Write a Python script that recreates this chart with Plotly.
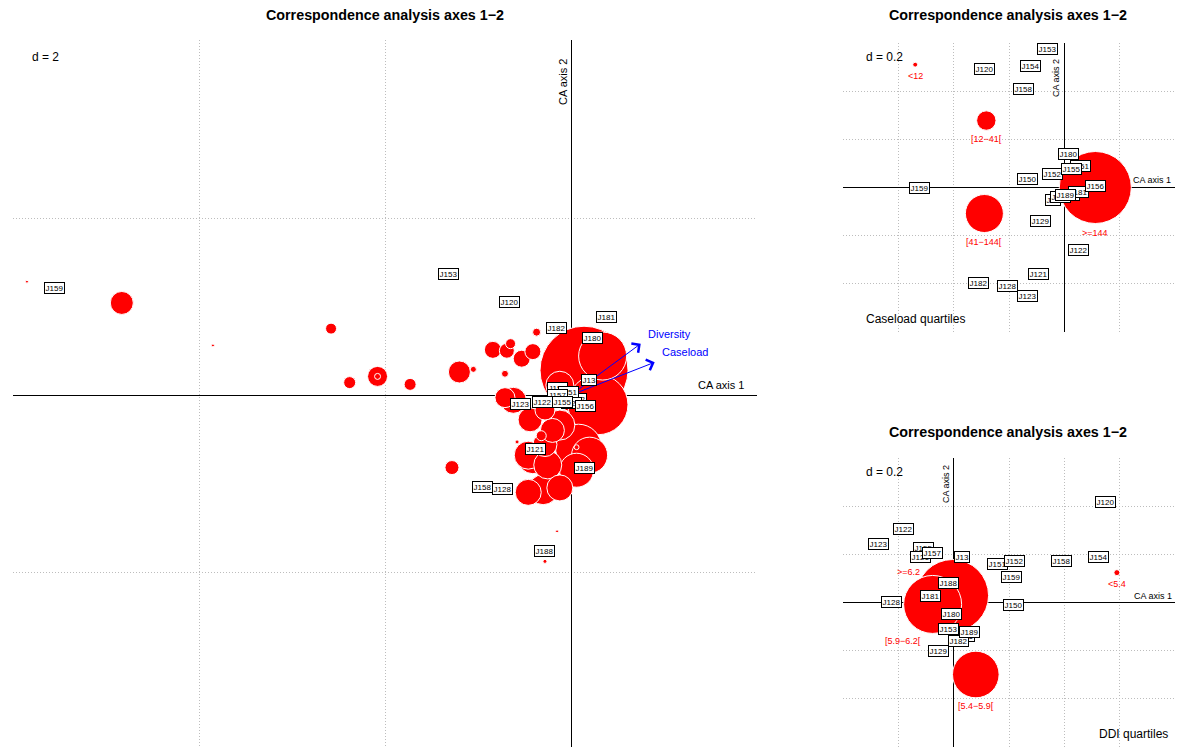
import plotly.graph_objects as go
import numpy as np

FONT = "Liberation Sans, Arial, Helvetica, sans-serif"
TITLE = "Correspondence analysis axes 1\u22122"

# ---------------- Main panel: row points (bubbles) ----------------
main_x = [-5.85, -4.83, -3.85, -2.58, -2.38, -2.08, -2.08, -1.73, -1.28, -1.20,
          -1.05, -0.84, -0.69, -0.65, -0.53, -0.41, -0.37, -0.71, 0.14, 0.34,
          0.29, 0.08, 0.06, -0.62, -0.44, -0.28, -0.46, -0.28, -0.32, -0.58,
          -0.12, -0.46, -0.41, -0.25, -0.12, -0.30, 0.06, 0.20, -0.15, -0.28,
          -0.71, -0.12, -0.20]
main_y = [1.28, 1.04, 0.56, 0.75, 0.14, 0.21, 0.21, 0.12, -0.82, 0.26,
          0.29, 0.51, 0.50, 0.58, 0.41, 0.49, 0.71, 0.24, 0.28, 0.44,
          -0.11, -0.59, -0.59, -0.06, -0.28, -0.17, -0.68, -0.56, -0.46, -0.53,
          -0.34, -1.10, -0.72, -0.79, -1.05, -1.07, -0.85, -0.68, -1.54, -1.88,
          -0.03, 0.11, -0.40]
main_w = [2, 132, 2, 30, 36, 100, 9, 36, 49, 121,
          9, 72, 56, 25, 72, 64, 16, 12, 1936, 576,
          900, 529, 6, 169, 144, 100, 196, 144, 25, 4,
          225, 169, 225, 196, 169, 225, 289, 324, 2, 4,
          100, 196, 144]

# column labels (main panel)
main_lab = ["J159", "J153", "J120", "J181", "J182", "J180", "J150", "J152", "J129",
            "J154", "J151", "J157", "J122", "J123", "J155", "J156", "J13", "J121",
            "J189", "J158", "J128", "J188"]
main_lab_x = [-5.55, -1.32, -0.66, 0.38, -0.16, 0.23, 0.02, 0.06, 0.01,
              -0.15, -0.03, -0.15, -0.31, -0.54, -0.09, 0.16, 0.19, -0.38,
              0.14, -0.95, -0.74, -0.28]
main_lab_y = [1.21, 1.37, 1.05, 0.88, 0.76, 0.64, -0.06, -0.04, -0.09,
              0.08, 0.03, 0.0, -0.08, -0.10, -0.08, -0.12, 0.17, -0.61,
              -0.82, -1.04, -1.06, -1.76]

# supplementary variables (arrows)
arrow_names = ["Diversity", "Caseload"]
arrow_x = [0.75, 0.90]
arrow_y = [0.58, 0.37]

# ---------------- Top-right panel: caseload quartiles ----------------
case_cat = ["&lt;12", "[12\u221241[", "[41\u2212144[", "&gt;=144"]
case_x = [-0.539, -0.282, -0.289, 0.112]
case_y = [0.510, 0.278, -0.108, 0.0]
case_w = [6, 94, 361, 1296]

case_lab = ["J153", "J154", "J120", "J158", "J159", "J129", "J122", "J121", "J182",
            "J128", "J123", "J150", "J13", "J188", "J157", "J181", "J151", "J152",
            "J155", "J180", "J156", "J189"]
case_lab_x = [-0.061, -0.123, -0.289, -0.148, -0.524, -0.087, 0.051, -0.094, -0.311,
              -0.206, -0.134, -0.134, -0.040, 0.020, -0.015, 0.051, 0.058, -0.043,
              0.025, 0.014, 0.112, 0.004]
case_lab_y = [0.577, 0.506, 0.490, 0.411, -0.004, -0.141, -0.261, -0.361, -0.398,
              -0.411, -0.452, 0.037, -0.050, -0.030, -0.040, -0.017, 0.091, 0.058,
              0.075, 0.141, 0.008, -0.033]

# ---------------- Bottom-right panel: DDI quartiles ----------------
ddi_cat = ["&lt;5.4", "[5.4\u22125.9[", "&gt;=6.2", "[5.9\u22126.2["]
ddi_x = [0.590, 0.080, -0.076, -0.004]
ddi_y = [0.124, -0.299, -0.008, 0.029]
ddi_w = [9, 543, 841, 1296]

ddi_lab = ["J120", "J122", "J123", "J155", "J121", "J157", "J13", "J151", "J152",
           "J159", "J158", "J154", "J188", "J181", "J128", "J150", "J180", "J156",
           "J182", "J129", "J153", "J189"]
ddi_lab_x = [0.550, -0.181, -0.271, -0.108, -0.119, -0.076, 0.029, 0.159, 0.221,
             0.210, 0.391, 0.524, -0.018, -0.083, -0.224, 0.217, -0.007, 0.040,
             0.018, -0.054, -0.018, 0.058]
ddi_lab_y = [0.419, 0.307, 0.245, 0.228, 0.187, 0.207, 0.187, 0.158, 0.174,
             0.104, 0.174, 0.187, 0.079, 0.025, 0.004, -0.012, -0.046, -0.140,
             -0.158, -0.203, -0.112, -0.124]

# ---------------- figure ----------------
W, H = 1179, 747
SIZEREF = 0.5  # area mode: radius = sqrt(w / (2*sizeref))


def radius(w):
    return np.sqrt(np.asarray(w, float) / (2 * SIZEREF))


fig = go.Figure()


def bubbles(xs, ys, ws, xa, ya):
    order = np.argsort(-np.asarray(ws, float), kind="stable")
    fig.add_trace(go.Scatter(
        x=[xs[i] for i in order], y=[ys[i] for i in order],
        xaxis=xa, yaxis=ya, mode="markers", hoverinfo="skip",
        marker=dict(size=[ws[i] for i in order], sizemode="area", sizeref=SIZEREF,
                    color="#ff0000", opacity=1, line=dict(color="white", width=1)),
        showlegend=False))


bubbles(main_x, main_y, main_w, "x", "y")
bubbles(case_x, case_y, case_w, "x2", "y2")
bubbles(ddi_x, ddi_y, ddi_w, "x3", "y3")

ann = []

# arrows (drawn beneath the labels)
for name, x, y in zip(arrow_names, arrow_x, arrow_y):
    ann.append(dict(x=x, y=y, ax=0, ay=0, xref="x", yref="y", axref="x", ayref="y",
                    text="", showarrow=True, arrowhead=4, arrowsize=2.2,
                    arrowwidth=1, arrowcolor="#0000ff", standoff=0, startstandoff=0))
    ann.append(dict(x=x, y=y, xref="x", yref="y", text=name, showarrow=False,
                    xanchor="left", yanchor="middle", xshift=5, yshift=10,
                    font=dict(family=FONT, size=11, color="#0000ff")))


def box_labels(labs, xs, ys, xr, yr):
    for t, x, y in zip(labs, xs, ys):
        ann.append(dict(x=x, y=y, xref=xr, yref=yr, text=t, showarrow=False,
                        xanchor="center", yanchor="middle",
                        font=dict(family=FONT, size=8, color="black"),
                        bgcolor="white", bordercolor="black", borderwidth=1,
                        borderpad=0.5))


box_labels(main_lab, main_lab_x, main_lab_y, "x", "y")
box_labels(case_lab, case_lab_x, case_lab_y, "x2", "y2")
box_labels(ddi_lab, ddi_lab_x, ddi_lab_y, "x3", "y3")

# category labels (below circles)
cat_font = dict(family=FONT, size=9, color="#ff0000")
r_case = radius(case_w)
for t, x, y, r in zip(case_cat, case_x, case_y, r_case):
    ann.append(dict(x=x, y=y, xref="x2", yref="y2", text=t, showarrow=False,
                    xanchor="center", yanchor="middle",
                    yshift=-(r + 9), font=cat_font))
r_ddi = radius(ddi_w)
ddi_shift = [(0, -(r_ddi[0] + 8)), (0, -(r_ddi[1] + 8)), (-24, 32), (-50, -45)]
for t, x, y, (sx, sy) in zip(ddi_cat, ddi_x, ddi_y, ddi_shift):
    ann.append(dict(x=x, y=y, xref="x3", yref="y3", text=t, showarrow=False,
                    xanchor="center", yanchor="middle",
                    xshift=sx, yshift=sy, font=cat_font))

# titles
for tx, ty in [(385, 15), (1008, 15), (1008, 432)]:
    ann.append(dict(x=tx / W, y=1 - ty / H, xref="paper", yref="paper",
                    text="<b>" + TITLE + "</b>", xanchor="center", yanchor="middle",
                    showarrow=False, font=dict(family=FONT, size=14.3, color="black")))


# panel texts
def ptext(t, x, y, size, anchor="center", angle=0):
    ann.append(dict(x=x / W, y=1 - y / H, xref="paper", yref="paper", text=t,
                    showarrow=False, xanchor=anchor, yanchor="middle", textangle=angle,
                    font=dict(family=FONT, size=size, color="black")))


ptext("d = 2", 30, 57, 12, "left")
ptext("CA axis 1", 721, 385, 11)
ptext("CA axis 2", 563, 82, 11, angle=-90)
ptext("d = 0.2", 864, 57, 12, "left")
ptext("Caseload quartiles", 864, 319, 12, "left")
ptext("CA axis 1", 1152, 180, 9)
ptext("CA axis 2", 1056, 78, 9, angle=-90)
ptext("d = 0.2", 864, 472, 12, "left")
ptext("DDI quartiles", 1170, 734, 12, "right")
ptext("CA axis 1", 1153, 596, 9)
ptext("CA axis 2", 946, 484, 9, angle=-90)

common = dict(showticklabels=False, ticks="", showline=False, zeroline=True,
              zerolinecolor="black", zerolinewidth=1, showgrid=True,
              gridcolor="#bdbdbd", griddash="1px,2px", gridwidth=1, tick0=0,
              fixedrange=True)

fig.update_layout(
    width=W, height=H, margin=dict(l=0, r=0, t=0, b=0),
    paper_bgcolor="white", plot_bgcolor="white", showlegend=False,
    xaxis=dict(domain=[13 / W, 757 / W], range=[-6, 2], dtick=2, anchor="y", **common),
    yaxis=dict(domain=[0, 1 - 40 / H], range=[(395 - 747) / 88.5, (395 - 40) / 88.5],
               dtick=2, anchor="x", **common),
    xaxis2=dict(domain=[843 / W, 1175 / W], range=[-0.8, 0.4], dtick=0.2, anchor="y2", **common),
    yaxis2=dict(domain=[1 - 332 / H, 1 - 43 / H], range=[-0.6, 0.6], dtick=0.2, anchor="x2", **common),
    xaxis3=dict(domain=[843 / W, 1175 / W], range=[-0.4, 0.8], dtick=0.2, anchor="y3", **common),
    yaxis3=dict(domain=[0, 1 - 458 / H], range=[-0.6, 0.6], dtick=0.2, anchor="x3", **common),
    annotations=ann,
    hovermode=False,
)

fig.write_html("out.html", config={"displayModeBar": False},
               post_script="document.body.style.margin='0';document.body.style.overflow='hidden';")
